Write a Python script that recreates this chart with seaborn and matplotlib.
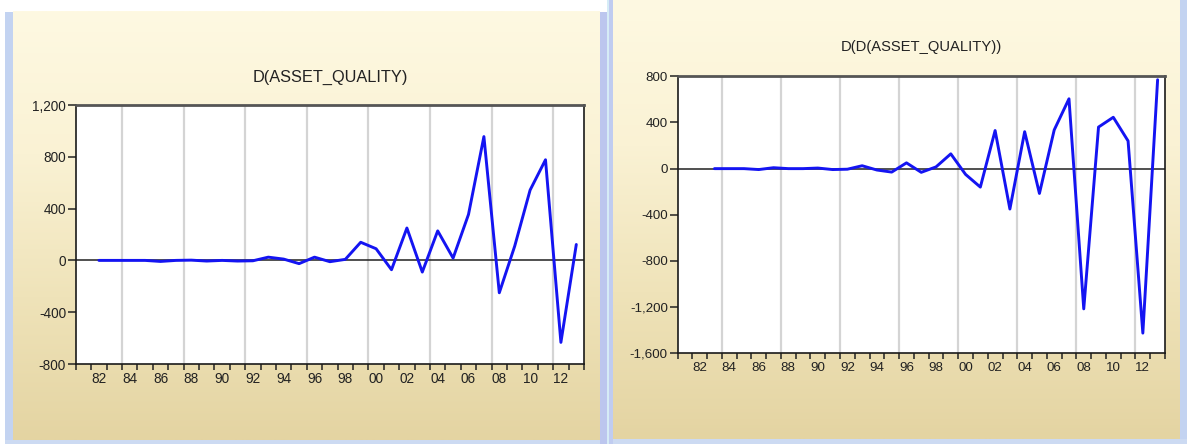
import numpy as np
import matplotlib
matplotlib.use("Agg")
import matplotlib.pyplot as plt
from matplotlib.colors import LinearSegmentedColormap
from matplotlib.patches import Rectangle
from matplotlib.ticker import FuncFormatter, MultipleLocator
import seaborn as sns

# First difference of asset quality, annual 1982-2013
years_d1 = list(range(1982, 2014))
d_asset_quality = [0, 0, 0, 0, -8, 0, 2, -5, 0, -5, -3, 25, 10, -25, 25, -10,
                   8, 140, 90, -72, 250, -90, 228, 18, 355, 956, -250, 110,
                   543, 777, -633, 123]

# Second difference of asset quality, annual 1983-2013
years_d2 = list(range(1983, 2014))
dd_asset_quality = [0, 0, 0, -8, 8, 0, 0, 5, -8, -5, 25, -12, -30, 50, -32,
                    15, 128, -50, -160, 330, -350, 320, -215, 335, 605, -1215,
                    360, 445, 240, -1425, 770]

# Two-digit year labels on even years
label_years = list(range(1982, 2013, 2))
label_text = [f"{y % 100:02d}" for y in label_years]

titles = ["D(ASSET_QUALITY)", "D(D(ASSET_QUALITY))"]

sns.set_theme(style="white")
plt.rcParams["font.family"] = ["Liberation Sans", "DejaVu Sans"]

W, H = 1187, 444
fig = plt.figure(figsize=(W / 100, H / 100), dpi=100)
fig.patch.set_facecolor("white")

# Window backdrop drawn in pixel coordinates
bg = fig.add_axes([0, 0, 1, 1], zorder=0)
bg.axis("off")
grad = np.linspace(0, 1, 256).reshape(-1, 1)
cream = LinearSegmentedColormap.from_list(
    "cream", ["#FEF9E2", "#FAF2D4", "#EFE3B9", "#E4D4A2"])


def window(x0, x1, y0, y1):
    bg.imshow(grad, cmap=cream, extent=(x0, x1, y1, y0), aspect="auto",
              interpolation="bilinear")


blue = "#C3D3F1"
window(13, 600, 12, 440)
window(613, 1180, 0, 439)
for (x, y, w, h, c) in [
    (5, 12, 8, 432, blue),          # left frame edge
    (5, 440, 595, 4, "#CCDAF2"),    # left bottom edge
    (600, 12, 8, 432, "#BCC6EE"),   # divider
    (607, 0, 1.5, 444, "#D6ECF6"),
    (608.5, 0, 4.5, 444, "#C0CCF0"),
    (1180, 0, 7, 444, blue),        # right frame edge
    (613, 439, 574, 5, "#CCDAF2"),  # right bottom edge
]:
    bg.add_patch(Rectangle((x, y), w, h, facecolor=c, edgecolor="none"))
bg.set_xlim(0, W)
bg.set_ylim(H, 0)


def make_axes(x0, y0, x1, y1):
    return fig.add_axes([x0 / W, 1 - y1 / H, (x1 - x0) / W, (y1 - y0) / H],
                        zorder=2)


def style(ax, ylim, ystep, fs):
    ax.set_facecolor("white")
    ax.set_xlim(1980.5, 2013.5)
    ax.set_ylim(*ylim)
    ax.yaxis.set_major_locator(MultipleLocator(ystep))
    ax.yaxis.set_major_formatter(FuncFormatter(lambda v, p: f"{v:,.0f}"))
    ax.set_xticks(label_years)
    ax.set_xticklabels(label_text)
    ax.set_xticks(np.arange(1980.5, 2014, 1.0), minor=True)
    ax.tick_params(axis="x", which="major", bottom=True, length=0, pad=6,
                   labelsize=fs, labelcolor="#222222")
    ax.tick_params(axis="x", which="minor", bottom=True, length=4.5,
                   width=1.1, direction="out", color="#222222")
    ax.tick_params(axis="y", which="major", left=True, length=5.5, width=1.1,
                   direction="out", color="#222222", labelsize=fs,
                   labelcolor="#222222", pad=1.5)
    for gx in np.arange(1983.5, 2013.0, 4.0):
        ax.axvline(gx, color="#D4D4D4", lw=1.6, zorder=0)
    ax.axhline(0, color="#202020", lw=1.1, zorder=1)
    for side, sp in ax.spines.items():
        sp.set_visible(True)
        sp.set_color("#1A1A1A")
        sp.set_linewidth(1.2)
    ax.spines["top"].set_color("#555555")
    ax.spines["top"].set_linewidth(2.0)
    ax.set_xlabel("")
    ax.set_ylabel("")


line_color = "#1414F2"

ax1 = make_axes(75.8, 105, 584, 364)
sns.lineplot(x=years_d1, y=d_asset_quality, ax=ax1, color=line_color,
             lw=2.1, zorder=3)
style(ax1, (-800, 1200), 400, 9.8)

ax2 = make_axes(677.5, 76.3, 1165, 353.3)
sns.lineplot(x=years_d2, y=dd_asset_quality, ax=ax2, color=line_color,
             lw=2.1, zorder=3)
style(ax2, (-1600, 800), 400, 9.6)

fig.text(330 / W, 1 - 77 / H, titles[0], ha="center", va="center",
         fontsize=11.8, color="#222222")
fig.text(921 / W, 1 - 47 / H, titles[1], ha="center", va="center",
         fontsize=10.6, color="#222222")

fig.savefig("out.png", dpi=100, facecolor=fig.get_facecolor())
